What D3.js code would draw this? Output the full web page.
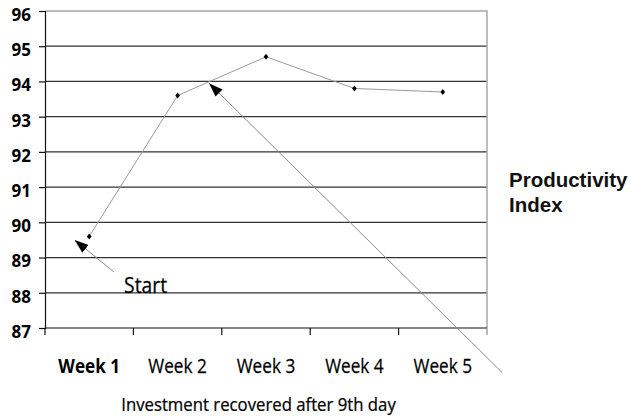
<!DOCTYPE html>
<html>
<head>
<meta charset="utf-8">
<script src="https://cdn.jsdelivr.net/npm/d3@7"></script>
<style>
  html, body { margin: 0; padding: 0; background: #fff; }
  svg { display: block; }
</style>
</head>
<body>
<div id="chart"></div>
<script>
// Weekly productivity index
const weeks = ["Week 1", "Week 2", "Week 3", "Week 4", "Week 5"];
const productivity = [89.6, 93.6, 94.7, 93.8, 93.7];
const yTicks = [87, 88, 89, 90, 91, 92, 93, 94, 95, 96];
const yDomain = [87, 96];
const highlightedWeek = "Week 1";

// Annotation arrows, in chart units: x counts weeks from the left edge, y is the index
const arrowLabels = ["Start", ""];
const arrowTips = [[0.34, 89.49], [1.86, 93.94]];
const arrowTails = [[0.78, 88.59], [5.17, 85.74]];
const labelAnchors = [[0.895, 88.0], null];

const seriesName = ["Productivity", "Index"];
const xTitle = "Investment recovered after 9th day";

const W = 631, H = 419;
const plot = { left: 45, right: 487, top: 11, bottom: 328 };
const textFont = "'Open Sans', sans-serif";

const svg = d3.select("#chart").append("svg")
  .attr("width", W).attr("height", H)
  .attr("viewBox", `0 0 ${W} ${H}`);

svg.append("rect").attr("width", W).attr("height", H).attr("fill", "#fff");

const x = d3.scaleBand().domain(weeks).range([plot.left, plot.right]);
const xPos = d3.scaleLinear().domain([0, weeks.length]).range([plot.left, plot.right]);
const y = d3.scaleLinear().domain(yDomain).range([plot.bottom, plot.top]);

// Arrowhead
svg.append("defs").append("marker")
  .attr("id", "head")
  .attr("viewBox", "0 0 14 10")
  .attr("refX", 13.5).attr("refY", 5)
  .attr("markerWidth", 14).attr("markerHeight", 10)
  .attr("markerUnits", "userSpaceOnUse")
  .attr("orient", "auto")
  .append("path").attr("d", "M0,0 L14,5 L0,10 Z").attr("fill", "#000");

// Horizontal gridlines
svg.append("g")
  .selectAll("line")
  .data(yTicks.filter(t => t > yDomain[0] && t < yDomain[1]))
  .join("line")
  .attr("x1", plot.left).attr("x2", plot.right)
  .attr("y1", d => y(d)).attr("y2", d => y(d))
  .attr("stroke", "#333").attr("stroke-width", 1.3);

// Plot frame (top and right)
svg.append("path")
  .attr("d", `M${plot.left},${y(yDomain[1])} H${plot.right} V${y(yDomain[0])}`)
  .attr("fill", "none").attr("stroke", "#a8a8a8").attr("stroke-width", 1.5);

// Y axis
const yAxis = svg.append("g")
  .attr("transform", `translate(${plot.left},0)`)
  .call(d3.axisLeft(y).tickValues(yTicks).tickSize(6).tickPadding(8).tickFormat(d3.format("d")));
yAxis.select(".domain").attr("stroke", "#111").attr("stroke-width", 1.2);
yAxis.selectAll(".tick line").attr("stroke", "#111").attr("stroke-width", 1.2);
yAxis.selectAll(".tick text")
  .attr("font-family", textFont)
  .attr("font-size", 17).attr("font-weight", "bold").attr("fill", "#000")
  .attr("dy", "0.55em");

// X axis with ticks at week boundaries
const xAxis = svg.append("g")
  .attr("transform", `translate(0,${plot.bottom})`);
xAxis.append("line")
  .attr("x1", plot.left).attr("x2", plot.right)
  .attr("stroke", "#111").attr("stroke-width", 1.2);
xAxis.selectAll("line.tick")
  .data(d3.range(weeks.length + 1))
  .join("line").attr("class", "tick")
  .attr("x1", d => xPos(d)).attr("x2", d => xPos(d))
  .attr("y1", 0).attr("y2", 7)
  .attr("stroke", d => d === weeks.length ? "#888" : "#111").attr("stroke-width", 1.2);
xAxis.selectAll("text")
  .data(weeks)
  .join("text")
  .attr("transform", d => `translate(${x(d) + x.bandwidth() / 2},45) scale(0.86,1)`)
  .attr("text-anchor", "middle")
  .attr("font-family", textFont)
  .attr("font-size", 20)
  .attr("font-weight", d => d === highlightedWeek ? "bold" : "normal")
  .attr("stroke", d => d === highlightedWeek ? "none" : "#000")
  .attr("stroke-width", 0.25)
  .attr("fill", "#000")
  .text(d => d);

// Axis title
svg.append("text")
  .attr("transform", "translate(258.5,411) scale(0.93,1)")
  .attr("text-anchor", "middle")
  .attr("font-family", textFont)
  .attr("font-size", 18).attr("fill", "#000")
  .attr("stroke", "#000").attr("stroke-width", 0.25)
  .text(xTitle);

// Series line and markers
const line = d3.line()
  .x((d, i) => x(weeks[i]) + x.bandwidth() / 2)
  .y(d => y(d));
svg.append("path")
  .datum(productivity)
  .attr("d", line)
  .attr("fill", "none").attr("stroke", "#9a9a9a").attr("stroke-width", 1);

svg.append("g")
  .selectAll("path")
  .data(productivity)
  .join("path")
  .attr("transform", (d, i) => `translate(${x(weeks[i]) + x.bandwidth() / 2},${y(d)})`)
  .attr("d", "M0,-3 L2.3,0 L0,3 L-2.3,0 Z")
  .attr("fill", "#000");

// Annotation arrows
svg.append("g")
  .selectAll("line")
  .data(arrowTips.map((tip, i) => ({ tip, tail: arrowTails[i] })))
  .join("line")
  .attr("x1", d => xPos(d.tail[0])).attr("y1", d => y(d.tail[1]))
  .attr("x2", d => xPos(d.tip[0])).attr("y2", d => y(d.tip[1]))
  .attr("stroke", "#8a8a8a").attr("stroke-width", 1)
  .attr("marker-end", "url(#head)");

svg.append("g")
  .selectAll("text")
  .data(arrowLabels.map((t, i) => ({ t, at: labelAnchors[i] })).filter(d => d.at))
  .join("text")
  .attr("transform", d => `translate(${xPos(d.at[0])},${y(d.at[1])}) scale(0.92,1)`)
  .attr("font-family", textFont)
  .attr("font-size", 21).attr("fill", "#000")
  .attr("stroke", "#000").attr("stroke-width", 0.25)
  .text(d => d.t);

// Series legend
svg.append("text")
  .attr("x", 509).attr("y", 187)
  .attr("font-family", "'Liberation Sans', Arial, sans-serif")
  .attr("font-size", 20.5).attr("font-weight", "bold").attr("fill", "#111")
  .selectAll("tspan")
  .data(seriesName)
  .join("tspan")
  .attr("x", 509)
  .attr("dy", (d, i) => i === 0 ? 0 : 25)
  .text(d => d);
</script>
</body>
</html>
